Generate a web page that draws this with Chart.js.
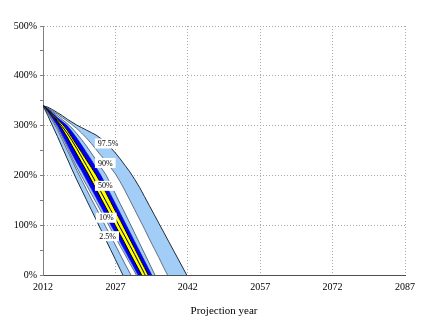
<!DOCTYPE html>
<html>
<head>
<meta charset="utf-8">
<script src="https://cdn.jsdelivr.net/npm/chart.js@4/dist/chart.umd.min.js"></script>
<style>
    body { margin: 0; background: #fff; }
    #wrap { width: 432px; height: 327px; }
</style>
</head>
<body>
<div id="wrap"><canvas id="fanChart" width="432" height="327"></canvas></div>
<script>
// projection years (x axis) and percentile boundaries (% values)
var years = [2012, 2013, 2014, 2015, 2016, 2017, 2018, 2019, 2020, 2021, 2022, 2023, 2024, 2025, 2026, 2027,
    2028, 2029, 2030, 2031, 2032, 2033, 2034, 2035, 2036, 2037, 2038, 2039, 2040, 2041, 2042];

var p2_5 = [340, 320, 299, 278, 256, 234, 212, 191, 171, 151, 131, 111, 91, 71, 51, 31, 11, -9, -29, -49];
var p5 = [340, 325, 309, 292, 272, 251, 231, 210, 191, 172, 153, 135, 116, 97, 79, 60, 41, 22, 4, -15, -34];
var p10 = [340, 327, 312, 296, 277, 257, 236, 216, 198, 181, 163, 146, 128, 111, 93, 76, 58, 41, 23, 6, -12];
var p25 = [340, 328, 314, 299, 281, 262, 243, 225, 209, 191, 173, 155, 137, 119, 101, 84, 66, 48, 30, 12, -6, -24];
var p40 = [340, 330, 319, 308, 293, 277, 260, 243, 226, 209, 191, 173, 154, 136, 118, 99, 81, 63, 44, 26, 8, -11, -29];
var p50 = [340, 331, 321, 310, 298, 285, 270, 254, 237, 220, 203, 185, 167, 149, 131, 113, 95, 77, 59, 41, 22, 3, -16];
var p60 = [340, 332, 323, 313, 303, 291, 276, 261, 246, 231, 216, 201, 184, 166, 147, 128, 110, 91, 72, 53, 34, 15, -4, -23];
var p75 = [340, 333, 325, 316, 308, 300, 288, 275, 261, 246, 231, 216, 200, 181, 162, 143, 124, 105, 86, 67, 48, 29, 10, -9, -28];
var p90 = [340, 334, 327, 320, 312, 304, 295, 284, 272, 259, 245, 231, 216, 202, 183, 163, 143, 124, 104, 84, 64, 44, 24, 4, -16, -36, -56];
var p95 = [340, 335, 329, 323, 316, 309, 302, 294, 285, 275, 264, 252, 240, 229, 216, 203, 187, 169, 150, 131, 112, 93, 73, 54, 35, 15, -4, -24, -43, -63, -82];
var p97_5 = [340, 337, 332, 326, 320, 313, 307, 301, 296, 291, 286, 281, 274, 266, 256, 245, 233, 220, 207, 192, 176, 158, 140, 122, 104, 86, 68, 50, 32, 14, -4];

var xTicks = [2012, 2027, 2042, 2057, 2072, 2087];

// boxed percentile labels: text, year, value
var labelText = ['97.5%', '90%', '50%', '10%', '2.5%'];
var labelYear = [2025.5, 2024.9, 2024.9, 2025.1, 2025.4];
var labelValue = [264, 225, 179, 115, 78];

var serif = "'Times New Roman', 'Liberation Serif', 'DejaVu Serif', serif";
var lightBlue = '#a2cdf7';

function toPoints(values) {
    return values.map(function (v, i) {
        return {x: years[i], y: v};
    });
}

function band(values, fillColor, lineColor, lineWidth) {
    return {
        data: toPoints(values),
        borderColor: lineColor,
        borderWidth: lineWidth,
        backgroundColor: fillColor,
        fill: fillColor ? '-1' : false,
        pointRadius: 0,
        tension: 0
    };
}

var boxLabels = {
    id: 'boxLabels',
    afterDatasetsDraw: function (chart) {
        var ctx = chart.ctx;
        var xs = chart.scales.x;
        var ys = chart.scales.y;
        ctx.save();
        ctx.font = '8px ' + serif;
        ctx.textAlign = 'center';
        ctx.textBaseline = 'middle';
        labelText.forEach(function (t, i) {
            var px = xs.getPixelForValue(labelYear[i]);
            var py = ys.getPixelForValue(labelValue[i]);
            var w = ctx.measureText(t).width + 6;
            ctx.fillStyle = '#fff';
            ctx.fillRect(px - w / 2, py - 5, w, 10);
            ctx.fillStyle = '#000';
            ctx.fillText(t, px, py + 0.5);
        });
        ctx.restore();
    }
};

new Chart(document.getElementById('fanChart'), {
    type: 'line',
    data: {
        datasets: [
            band(p2_5, null, '#1c2c3c', 1),
            band(p5, lightBlue, '#2a3a4a', 0.7),
            band(p10, '#ffffff', '#2a3a4a', 0.7),
            band(p25, lightBlue, '#0000dd', 0.7),
            band(p40, '#0000ee', '#000000', 1),
            band(p50, '#ffff00', '#000000', 1),
            band(p60, '#ffff00', '#000000', 1),
            band(p75, '#0000ee', '#0000dd', 0.7),
            band(p90, lightBlue, '#2a3a4a', 0.7),
            band(p95, '#ffffff', '#2a3a4a', 0.7),
            band(p97_5, lightBlue, '#1c2c3c', 1)
        ]
    },
    options: {
        responsive: false,
        animation: false,
        layout: {
            padding: {top: 26, right: 27, left: 0, bottom: 0}
        },
        scales: {
            x: {
                type: 'linear',
                min: 2012,
                max: 2087,
                afterBuildTicks: function (scale) {
                    scale.ticks = xTicks.map(function (v) { return {value: v}; });
                },
                afterFit: function (scale) {
                    scale.height = 52;
                },
                ticks: {
                    callback: function (v) { return String(v); },
                    font: {family: serif, size: 10},
                    color: '#000',
                    padding: 6,
                    maxRotation: 0
                },
                grid: {
                    color: '#a8a8a8',
                    drawTicks: false
                },
                border: {
                    color: '#505050',
                    dash: [1, 2]
                },
                title: {
                    display: true,
                    text: 'Projection year',
                    font: {family: serif, size: 11},
                    color: '#000',
                    padding: {bottom: 9}
                }
            },
            y: {
                min: 0,
                max: 500,
                afterFit: function (scale) {
                    scale.width = 43;
                },
                ticks: {
                    stepSize: 50,
                    callback: function (v) { return v % 100 === 0 ? v + '%' : ''; },
                    font: {family: serif, size: 10},
                    color: '#000',
                    padding: 3
                },
                grid: {
                    color: function (c) {
                        return c.tick && c.tick.value % 100 === 0 ? '#a8a8a8' : 'rgba(0,0,0,0)';
                    },
                    tickColor: '#808080',
                    tickLength: 3
                },
                border: {
                    color: '#808080',
                    dash: [1, 2]
                }
            }
        },
        plugins: {
            legend: {display: false},
            tooltip: {enabled: false}
        }
    },
    plugins: [boxLabels]
});
</script>
</body>
</html>
